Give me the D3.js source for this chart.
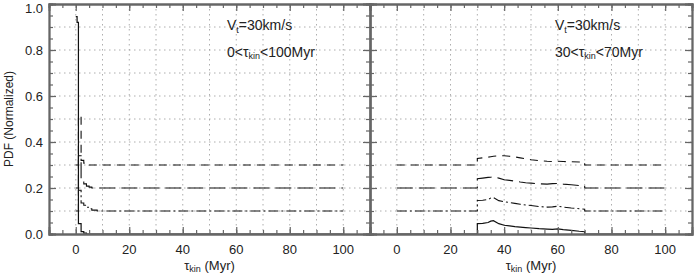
<!DOCTYPE html>
<html>
<head>
<meta charset="utf-8">
<script src="https://cdn.jsdelivr.net/npm/d3@7"></script>
<style>
  body { margin: 0; background: #fff; }
  svg { display: block; font-family: "Liberation Sans", Arial, sans-serif; }
</style>
</head>
<body>
<svg id="chart" width="700" height="279"></svg>
<script>
// left panel: 0 < tau_kin < 100 Myr, step histogram (bin left edges)
const leftTau = [0, 0.5, 1, 2, 3, 4, 5, 6, 8, 100];
const leftSolid = [0.945, 0.92, 0.045, 0.01, 0.004, 0, 0, 0, 0, 0];
const leftDashDot = [0, 0, 0.09, 0.035, 0.025, 0.016, 0.01, 0.004, 0, 0];
const leftLongDash = [0, 0, 0.14, 0.033, 0.018, 0.008, 0.004, 0, 0, 0];
const leftDash = [0, 0, 0.215, 0.02, 0.008, 0.003, 0, 0, 0, 0];

// right panel: 30 < tau_kin < 70 Myr
const rightTau = [0, 30, 30, 32, 34, 35, 36, 38, 40, 42, 44, 46, 48, 50, 53, 56, 58, 60, 62, 65, 68, 70, 70, 100];
const rightSolid = [0, 0, 0.045, 0.046, 0.05, 0.056, 0.058, 0.045, 0.038, 0.035, 0.032, 0.03, 0.028, 0.026, 0.023, 0.021, 0.02, 0.022, 0.019, 0.016, 0.012, 0.01, 0, 0];
const rightDashDot = [0, 0, 0.046, 0.047, 0.05, 0.056, 0.058, 0.045, 0.04, 0.037, 0.033, 0.029, 0.026, 0.024, 0.019, 0.017, 0.018, 0.021, 0.017, 0.013, 0.01, 0.008, 0, 0];
const rightLongDash = [0, 0, 0.04, 0.043, 0.046, 0.047, 0.048, 0.043, 0.036, 0.033, 0.03, 0.026, 0.023, 0.021, 0.018, 0.017, 0.019, 0.02, 0.017, 0.014, 0.011, 0.01, 0, 0];
const rightDash = [0, 0, 0.028, 0.031, 0.034, 0.036, 0.038, 0.04, 0.04, 0.038, 0.035, 0.031, 0.027, 0.023, 0.019, 0.016, 0.015, 0.016, 0.015, 0.014, 0.013, 0.013, 0, 0];

const offsets = [0, 0.1, 0.2, 0.3];
const xTicks = [0, 20, 40, 60, 80, 100];
const yTicks = [0, 0.2, 0.4, 0.6, 0.8, 1.0];

const svg = d3.select('#chart');
const yTop = 4, yBottom = 234;
const y = d3.scaleLinear().domain([0, 1]).range([yBottom, yTop]);

const styles = [
    { dash: null, width: 1.2 },
    { dash: '10,3,2,3', width: 1.1 },
    { dash: '16,6', width: 1.1 },
    { dash: '8,6', width: 1.1 },
];

const panels = [
    { x0: 49, x1: 370, tau: leftTau, series: [leftSolid, leftDashDot, leftLongDash, leftDash], step: true,
      text: ['0<', '100Myr'], tx: 227 },
    { x0: 370, x1: 692, tau: rightTau, series: [rightSolid, rightDashDot, rightLongDash, rightDash], step: false,
      text: ['30<', '70Myr'], tx: 555 },
];

panels.forEach((p, i) => {
    const x = d3.scaleLinear().domain([-10, 110]).range([p.x0, p.x1]);
    const g = svg.append('g');

    // grid
    const grid = g.append('g')
        .attr('stroke', '#999')
        .attr('stroke-width', 0.8)
        .attr('stroke-dasharray', '1.5,3.5');
    grid.selectAll('.gx')
        .data(d3.range(0, 101, 10))
        .enter()
        .append('line')
        .attr('x1', (d) => x(d))
        .attr('x2', (d) => x(d))
        .attr('y1', yTop)
        .attr('y2', yBottom);
    grid.selectAll('.gy')
        .data(d3.range(1, 10).map((d) => d / 10))
        .enter()
        .append('line')
        .attr('x1', p.x0)
        .attr('x2', p.x1)
        .attr('y1', (d) => y(d))
        .attr('y2', (d) => y(d));

    // data
    const clipId = 'clip' + i;
    svg.append('clipPath').attr('id', clipId)
        .append('rect')
        .attr('x', p.x0).attr('y', yTop)
        .attr('width', p.x1 - p.x0).attr('height', yBottom - yTop);

    p.series.forEach((vals, k) => {
        const pts = vals.map((v, j) => [p.tau[j], v + offsets[k]]);
        const line = d3.line()
            .x((d) => x(d[0]))
            .y((d) => y(d[1]))
            .curve(p.step ? d3.curveStepAfter : d3.curveLinear);
        g.append('path')
            .attr('clip-path', 'url(#' + clipId + ')')
            .attr('d', line(pts))
            .attr('fill', 'none')
            .attr('stroke', '#111')
            .attr('stroke-width', styles[k].width)
            .attr('stroke-dasharray', styles[k].dash);
    });

    // axes (ticks inward on all four sides)
    const axisColor = '#666';
    const minorX = d3.range(-10, 111, 5);
    const minorY = d3.range(0, 21).map((d) => d / 20);
    const axes = [
        d3.axisBottom(x).tickValues(xTicks).tickSize(-7).tickFormat(''),
        d3.axisTop(x).tickValues(xTicks).tickSize(-7).tickFormat(''),
        d3.axisLeft(y).tickValues(yTicks).tickSize(-7).tickFormat(''),
        d3.axisRight(y).tickValues(yTicks).tickSize(-7).tickFormat(''),
    ];
    const minor = [
        d3.axisBottom(x).tickValues(minorX).tickSize(-4).tickFormat(''),
        d3.axisTop(x).tickValues(minorX).tickSize(-4).tickFormat(''),
        d3.axisLeft(y).tickValues(minorY).tickSize(-4).tickFormat(''),
        d3.axisRight(y).tickValues(minorY).tickSize(-4).tickFormat(''),
    ];
    const trans = [
        'translate(0,' + yBottom + ')',
        'translate(0,' + yTop + ')',
        'translate(' + p.x0 + ',0)',
        'translate(' + p.x1 + ',0)',
    ];
    [axes, minor].forEach((set) => {
        set.forEach((ax, j) => {
            const a = g.append('g').attr('transform', trans[j]).call(ax);
            a.selectAll('line').attr('stroke', axisColor).attr('stroke-width', 1.2);
            a.select('.domain').attr('stroke', axisColor).attr('stroke-width', 1.8);
        });
    });

    // x tick labels
    g.selectAll('.xl')
        .data(xTicks)
        .enter()
        .append('text')
        .attr('x', (d) => x(d))
        .attr('y', 254)
        .attr('text-anchor', 'middle')
        .attr('font-size', 13)
        .attr('fill', '#222')
        .text((d) => d);

    // x title
    const xt = g.append('text')
        .attr('x', (p.x0 + p.x1) / 2)
        .attr('y', 270)
        .attr('text-anchor', 'middle')
        .attr('font-size', 13)
        .attr('fill', '#222');
    xt.append('tspan').text('τ');
    xt.append('tspan').attr('font-size', 9).attr('dy', 2).text('kin');
    xt.append('tspan').attr('dy', -2).text('  (Myr)');

    // annotation
    const t1 = g.append('text')
        .attr('x', p.tx).attr('y', 30)
        .attr('font-size', 14).attr('fill', '#222');
    t1.append('tspan').text('V');
    t1.append('tspan').attr('font-size', 9).attr('dy', 3).text('t');
    t1.append('tspan').attr('dy', -3).text('=30km/s');

    const t2 = g.append('text')
        .attr('x', p.tx).attr('y', 57)
        .attr('font-size', 14).attr('fill', '#222');
    t2.append('tspan').text(p.text[0] + 'τ');
    t2.append('tspan').attr('font-size', 9).attr('dy', 2).text('kin');
    t2.append('tspan').attr('dy', -2).text('<' + p.text[1]);
});

// y tick labels (left panel only)
svg.selectAll('.yl')
    .data(yTicks)
    .enter()
    .append('text')
    .attr('x', 43)
    .attr('y', (d) => Math.max(y(d) + 5, 13))
    .attr('text-anchor', 'end')
    .attr('font-size', 13)
    .attr('fill', '#222')
    .text((d) => d.toFixed(1));

svg.append('text')
    .attr('transform', 'translate(13,' + (yTop + yBottom) / 2 + ') rotate(-90)')
    .attr('text-anchor', 'middle')
    .attr('font-size', 12)
    .attr('fill', '#222')
    .text('PDF (Normalized)');
</script>
</body>
</html>
